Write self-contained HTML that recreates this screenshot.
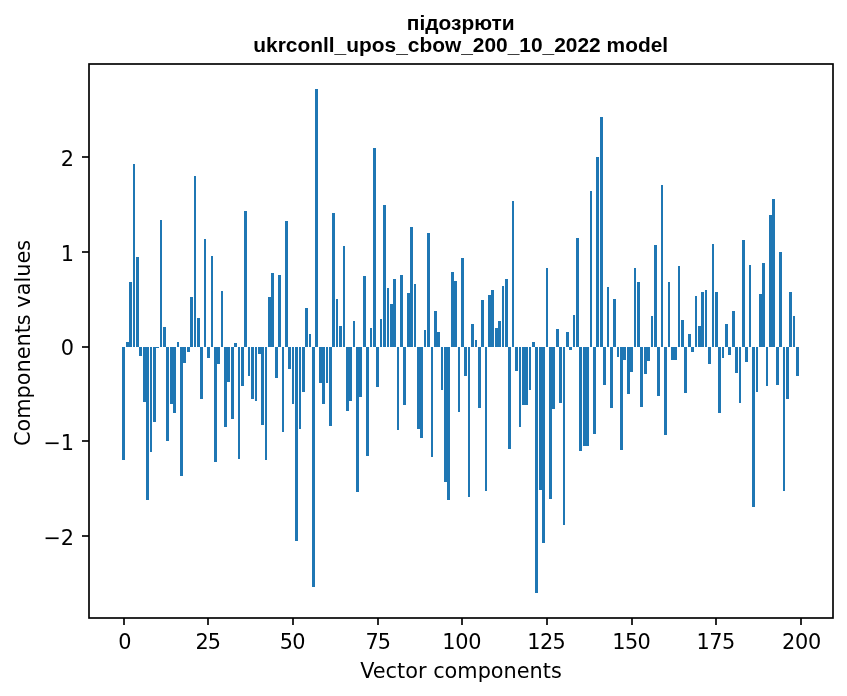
<!DOCTYPE html>
<html lang="uk"><head><meta charset="utf-8"><title>підозрюти</title>
<style>
html,body{margin:0;padding:0;background:#fff;}
body{width:847px;height:696px;overflow:hidden;}
svg{display:block;will-change:transform;}
.t{font-family:"DejaVu Sans","Liberation Sans",sans-serif;font-size:20.83px;fill:#000;}
.ttl{font-family:"Liberation Sans","Arial",sans-serif;font-weight:bold;font-size:20.92px;fill:#000;}
</style></head><body>
<svg width="847" height="696" viewBox="0 0 847 696">
<rect width="847" height="696" fill="#fff"/>
<g fill="#1f77b4" shape-rendering="crispEdges">
<rect x="122" y="347" width="3" height="113"/>
<rect x="126" y="342" width="3" height="5"/>
<rect x="129" y="282" width="3" height="65"/>
<rect x="133" y="164" width="2" height="183"/>
<rect x="136" y="257" width="3" height="90"/>
<rect x="139" y="347" width="3" height="9"/>
<rect x="143" y="347" width="3" height="55"/>
<rect x="146" y="347" width="3" height="153"/>
<rect x="150" y="347" width="2" height="105"/>
<rect x="153" y="347" width="3" height="75"/>
<rect x="156" y="347" width="3" height="1"/>
<rect x="160" y="220" width="2" height="127"/>
<rect x="163" y="327" width="3" height="20"/>
<rect x="166" y="347" width="3" height="94"/>
<rect x="170" y="347" width="3" height="57"/>
<rect x="173" y="347" width="3" height="66"/>
<rect x="177" y="342" width="2" height="5"/>
<rect x="180" y="347" width="3" height="129"/>
<rect x="183" y="347" width="3" height="16"/>
<rect x="187" y="347" width="3" height="5"/>
<rect x="190" y="297" width="3" height="50"/>
<rect x="194" y="176" width="2" height="171"/>
<rect x="197" y="318" width="3" height="29"/>
<rect x="200" y="347" width="3" height="52"/>
<rect x="204" y="239" width="2" height="108"/>
<rect x="207" y="347" width="3" height="11"/>
<rect x="211" y="256" width="2" height="91"/>
<rect x="214" y="347" width="3" height="115"/>
<rect x="217" y="347" width="3" height="17"/>
<rect x="221" y="291" width="2" height="56"/>
<rect x="224" y="347" width="3" height="80"/>
<rect x="227" y="347" width="3" height="35"/>
<rect x="231" y="347" width="3" height="72"/>
<rect x="234" y="343" width="3" height="4"/>
<rect x="238" y="347" width="2" height="112"/>
<rect x="241" y="347" width="3" height="39"/>
<rect x="244" y="211" width="3" height="136"/>
<rect x="248" y="347" width="2" height="29"/>
<rect x="251" y="347" width="3" height="52"/>
<rect x="255" y="347" width="2" height="54"/>
<rect x="258" y="347" width="3" height="7"/>
<rect x="261" y="347" width="3" height="78"/>
<rect x="265" y="347" width="2" height="113"/>
<rect x="268" y="297" width="3" height="50"/>
<rect x="271" y="273" width="3" height="74"/>
<rect x="275" y="347" width="3" height="31"/>
<rect x="278" y="275" width="3" height="72"/>
<rect x="282" y="347" width="2" height="85"/>
<rect x="285" y="221" width="3" height="126"/>
<rect x="288" y="347" width="3" height="22"/>
<rect x="292" y="347" width="2" height="57"/>
<rect x="295" y="347" width="3" height="194"/>
<rect x="299" y="347" width="2" height="82"/>
<rect x="302" y="347" width="3" height="45"/>
<rect x="305" y="308" width="3" height="39"/>
<rect x="309" y="334" width="2" height="13"/>
<rect x="312" y="347" width="3" height="240"/>
<rect x="315" y="89" width="3" height="258"/>
<rect x="319" y="347" width="3" height="36"/>
<rect x="322" y="347" width="3" height="57"/>
<rect x="326" y="347" width="2" height="36"/>
<rect x="329" y="347" width="3" height="79"/>
<rect x="332" y="213" width="3" height="134"/>
<rect x="336" y="299" width="2" height="48"/>
<rect x="339" y="326" width="3" height="21"/>
<rect x="343" y="246" width="2" height="101"/>
<rect x="346" y="347" width="3" height="64"/>
<rect x="349" y="347" width="3" height="54"/>
<rect x="353" y="321" width="2" height="26"/>
<rect x="356" y="347" width="3" height="145"/>
<rect x="359" y="347" width="3" height="50"/>
<rect x="363" y="276" width="3" height="71"/>
<rect x="366" y="347" width="3" height="109"/>
<rect x="370" y="328" width="2" height="19"/>
<rect x="373" y="148" width="3" height="199"/>
<rect x="376" y="347" width="3" height="40"/>
<rect x="380" y="319" width="2" height="28"/>
<rect x="383" y="205" width="3" height="142"/>
<rect x="387" y="288" width="2" height="59"/>
<rect x="390" y="304" width="3" height="43"/>
<rect x="393" y="279" width="3" height="68"/>
<rect x="397" y="347" width="2" height="83"/>
<rect x="400" y="275" width="3" height="72"/>
<rect x="403" y="347" width="3" height="58"/>
<rect x="407" y="293" width="3" height="54"/>
<rect x="410" y="227" width="3" height="120"/>
<rect x="414" y="284" width="2" height="63"/>
<rect x="417" y="347" width="3" height="82"/>
<rect x="420" y="347" width="3" height="91"/>
<rect x="424" y="330" width="2" height="17"/>
<rect x="427" y="233" width="3" height="114"/>
<rect x="431" y="347" width="2" height="110"/>
<rect x="434" y="311" width="3" height="36"/>
<rect x="437" y="332" width="3" height="15"/>
<rect x="441" y="347" width="2" height="43"/>
<rect x="444" y="347" width="3" height="135"/>
<rect x="447" y="347" width="3" height="153"/>
<rect x="451" y="272" width="3" height="75"/>
<rect x="454" y="281" width="3" height="66"/>
<rect x="458" y="347" width="2" height="65"/>
<rect x="461" y="258" width="3" height="89"/>
<rect x="464" y="347" width="3" height="29"/>
<rect x="468" y="347" width="2" height="150"/>
<rect x="471" y="324" width="3" height="23"/>
<rect x="475" y="340" width="2" height="7"/>
<rect x="478" y="347" width="3" height="61"/>
<rect x="481" y="300" width="3" height="47"/>
<rect x="485" y="347" width="2" height="144"/>
<rect x="488" y="295" width="3" height="52"/>
<rect x="491" y="290" width="3" height="57"/>
<rect x="495" y="328" width="3" height="19"/>
<rect x="498" y="321" width="3" height="26"/>
<rect x="502" y="286" width="2" height="61"/>
<rect x="505" y="279" width="3" height="68"/>
<rect x="508" y="347" width="3" height="102"/>
<rect x="512" y="201" width="2" height="146"/>
<rect x="515" y="347" width="3" height="24"/>
<rect x="519" y="347" width="2" height="80"/>
<rect x="522" y="347" width="3" height="58"/>
<rect x="525" y="347" width="3" height="58"/>
<rect x="529" y="347" width="2" height="43"/>
<rect x="532" y="342" width="3" height="5"/>
<rect x="535" y="347" width="3" height="246"/>
<rect x="539" y="347" width="3" height="143"/>
<rect x="542" y="347" width="3" height="196"/>
<rect x="546" y="268" width="2" height="79"/>
<rect x="549" y="347" width="3" height="152"/>
<rect x="552" y="347" width="3" height="62"/>
<rect x="556" y="329" width="3" height="18"/>
<rect x="559" y="347" width="3" height="56"/>
<rect x="563" y="347" width="2" height="178"/>
<rect x="566" y="332" width="3" height="15"/>
<rect x="569" y="347" width="3" height="3"/>
<rect x="573" y="315" width="2" height="32"/>
<rect x="576" y="238" width="3" height="109"/>
<rect x="579" y="347" width="3" height="104"/>
<rect x="583" y="347" width="3" height="99"/>
<rect x="586" y="347" width="3" height="99"/>
<rect x="590" y="191" width="2" height="156"/>
<rect x="593" y="347" width="3" height="87"/>
<rect x="596" y="157" width="3" height="190"/>
<rect x="600" y="117" width="3" height="230"/>
<rect x="603" y="347" width="3" height="38"/>
<rect x="607" y="287" width="2" height="60"/>
<rect x="610" y="347" width="3" height="61"/>
<rect x="613" y="299" width="3" height="48"/>
<rect x="617" y="347" width="2" height="10"/>
<rect x="620" y="347" width="3" height="103"/>
<rect x="623" y="347" width="3" height="13"/>
<rect x="627" y="347" width="3" height="47"/>
<rect x="630" y="347" width="3" height="25"/>
<rect x="634" y="268" width="2" height="79"/>
<rect x="637" y="282" width="3" height="65"/>
<rect x="640" y="347" width="3" height="60"/>
<rect x="644" y="347" width="3" height="27"/>
<rect x="647" y="347" width="3" height="14"/>
<rect x="651" y="316" width="2" height="31"/>
<rect x="654" y="245" width="3" height="102"/>
<rect x="657" y="347" width="3" height="49"/>
<rect x="661" y="185" width="2" height="162"/>
<rect x="664" y="347" width="3" height="88"/>
<rect x="668" y="282" width="2" height="65"/>
<rect x="671" y="347" width="3" height="13"/>
<rect x="674" y="347" width="3" height="13"/>
<rect x="678" y="266" width="2" height="81"/>
<rect x="681" y="320" width="3" height="27"/>
<rect x="684" y="347" width="3" height="46"/>
<rect x="688" y="334" width="3" height="13"/>
<rect x="691" y="347" width="3" height="5"/>
<rect x="695" y="296" width="2" height="51"/>
<rect x="698" y="326" width="3" height="21"/>
<rect x="701" y="292" width="3" height="55"/>
<rect x="705" y="290" width="2" height="57"/>
<rect x="708" y="347" width="3" height="17"/>
<rect x="712" y="244" width="2" height="103"/>
<rect x="715" y="292" width="3" height="55"/>
<rect x="718" y="347" width="3" height="66"/>
<rect x="722" y="347" width="2" height="11"/>
<rect x="725" y="324" width="3" height="23"/>
<rect x="728" y="347" width="3" height="8"/>
<rect x="732" y="311" width="3" height="36"/>
<rect x="735" y="347" width="3" height="26"/>
<rect x="739" y="347" width="2" height="56"/>
<rect x="742" y="240" width="3" height="107"/>
<rect x="745" y="347" width="3" height="15"/>
<rect x="749" y="265" width="2" height="82"/>
<rect x="752" y="347" width="3" height="160"/>
<rect x="756" y="347" width="2" height="45"/>
<rect x="759" y="294" width="3" height="53"/>
<rect x="762" y="263" width="3" height="84"/>
<rect x="766" y="347" width="2" height="39"/>
<rect x="769" y="215" width="3" height="132"/>
<rect x="772" y="199" width="3" height="148"/>
<rect x="776" y="347" width="3" height="38"/>
<rect x="779" y="252" width="3" height="95"/>
<rect x="783" y="347" width="2" height="144"/>
<rect x="786" y="347" width="3" height="52"/>
<rect x="789" y="292" width="3" height="55"/>
<rect x="793" y="316" width="2" height="31"/>
<rect x="796" y="347" width="3" height="29"/>
</g>
<g stroke="#000" stroke-width="1.67" fill="none">
<line x1="124.00" y1="618.00" x2="124.00" y2="625.00"/>
<line x1="208.00" y1="618.00" x2="208.00" y2="625.00"/>
<line x1="293.00" y1="618.00" x2="293.00" y2="625.00"/>
<line x1="378.00" y1="618.00" x2="378.00" y2="625.00"/>
<line x1="462.00" y1="618.00" x2="462.00" y2="625.00"/>
<line x1="547.00" y1="618.00" x2="547.00" y2="625.00"/>
<line x1="632.00" y1="618.00" x2="632.00" y2="625.00"/>
<line x1="716.00" y1="618.00" x2="716.00" y2="625.00"/>
<line x1="801.00" y1="618.00" x2="801.00" y2="625.00"/>
<line x1="82.00" y1="536.00" x2="89.00" y2="536.00"/>
<line x1="82.00" y1="441.00" x2="89.00" y2="441.00"/>
<line x1="82.00" y1="347.00" x2="89.00" y2="347.00"/>
<line x1="82.00" y1="252.00" x2="89.00" y2="252.00"/>
<line x1="82.00" y1="157.00" x2="89.00" y2="157.00"/>
<rect x="89.00" y="64.00" width="744.00" height="554.00" stroke-linejoin="miter"/>
</g>
<g class="t" text-anchor="middle">
<text text-anchor="start" x="118.32" y="648.50" letter-spacing="0.00">0</text>
<text text-anchor="start" x="195.60" y="648.50" letter-spacing="-1.15">25</text>
<text text-anchor="start" x="279.70" y="648.50" letter-spacing="-0.65">50</text>
<text text-anchor="start" x="365.43" y="648.50" letter-spacing="-0.95">75</text>
<text text-anchor="start" x="442.27" y="648.50" letter-spacing="-0.25">100</text>
<text text-anchor="start" x="527.27" y="648.50" letter-spacing="-0.60">125</text>
<text text-anchor="start" x="612.27" y="648.50" letter-spacing="-0.58">150</text>
<text text-anchor="start" x="696.52" y="648.50" letter-spacing="-0.50">175</text>
<text text-anchor="start" x="782.10" y="648.50" letter-spacing="-0.30">200</text>
<text x="461.00" y="678.00">Vector components</text>
<text transform="translate(30.00 343.00) rotate(-90)">Components values</text>
</g>
<g class="t" text-anchor="end">
<text x="74.10" y="544.60">−2</text>
<text x="74.10" y="449.60">−1</text>
<text x="74.10" y="354.60">0</text>
<text x="74.10" y="260.60">1</text>
<text x="74.10" y="165.60">2</text>
</g>
<g class="ttl" text-anchor="middle">
<text x="460.70" y="30.00">підозрюти</text>
<text x="460.70" y="51.50">ukrconll_upos_cbow_200_10_2022 model</text>
</g>
</svg>
</body></html>
